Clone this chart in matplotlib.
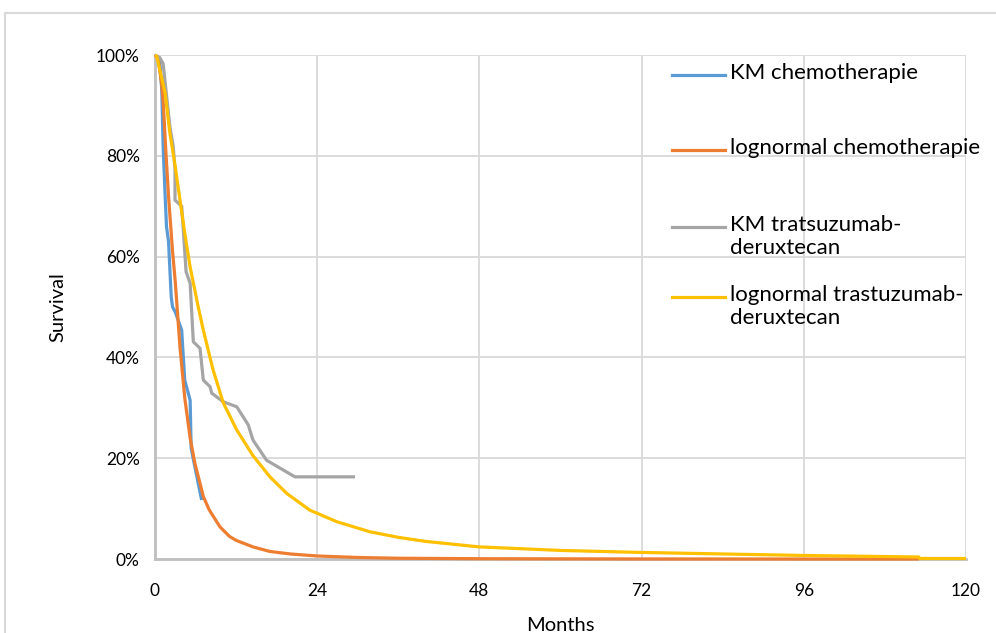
import matplotlib
matplotlib.use("Agg")
import matplotlib.pyplot as plt
from matplotlib.patches import Rectangle
from matplotlib.ticker import PercentFormatter

plt.rcParams['font.family'] = ['Lato', 'DejaVu Sans']

# KM chemotherapie
km_chemo_t = [0, 0.7, 1.0, 1.2, 1.5, 1.7, 2.0, 2.4, 2.6, 3.0, 3.95, 4.4, 5.2, 5.35, 5.7, 6.9]
km_chemo_s = [1.0, 0.99, 0.93, 0.82, 0.72, 0.66, 0.63, 0.52, 0.50, 0.49, 0.454, 0.355, 0.315, 0.22, 0.196, 0.117]

# lognormal chemotherapie
ln_chemo_t = [0, 0.5, 1.0, 1.2, 1.6, 2.0, 2.6, 3.0, 3.7, 4.4, 5.2, 5.9, 7.15, 8, 9.6, 11, 12, 14.5, 17, 20, 22,
              24, 30, 36, 48, 60, 72, 96, 113]
ln_chemo_s = [1.0, 0.99, 0.94, 0.91, 0.81, 0.72, 0.61, 0.55, 0.42, 0.32, 0.24, 0.19, 0.124, 0.098, 0.064, 0.045,
              0.037, 0.024, 0.015, 0.010, 0.008, 0.006, 0.003, 0.0015, 0.0006, 0.0003, 0.0001, 0.0, 0.0]

# KM tratsuzumab-deruxtecan
km_tdxd_t = [0, 0.7, 1.2, 2.2, 2.7, 2.96, 2.96, 3.95, 4.3, 4.6, 5.2, 5.67, 6.66, 7.15, 8.14, 8.39, 10.1, 12.1,
             13.8, 14.5, 16.5, 20.7, 29.6]
km_tdxd_s = [1.0, 0.995, 0.983, 0.858, 0.818, 0.772, 0.712, 0.70, 0.63, 0.57, 0.547, 0.431, 0.418, 0.355, 0.342,
             0.329, 0.312, 0.302, 0.266, 0.236, 0.196, 0.163, 0.163]

# lognormal trastuzumab-deruxtecan
ln_tdxd_t = [0, 0.25, 1.5, 2.2, 3.0, 3.7, 4.4, 5.2, 6.4, 7.15, 8.6, 10.1, 12.1, 14.5, 17, 19.5, 22.9, 26.9, 31.8,
             36, 40, 48, 60, 72, 84, 96, 113, 113.2, 120]
ln_tdxd_s = [1.0, 0.998, 0.924, 0.845, 0.778, 0.712, 0.647, 0.579, 0.50, 0.454, 0.375, 0.31, 0.256, 0.205, 0.163,
             0.13, 0.097, 0.074, 0.054, 0.043, 0.035, 0.024, 0.017, 0.013, 0.010, 0.007, 0.004, 0.001, 0.001]

labels = ["KM chemotherapie", "lognormal chemotherapie",
          "KM tratsuzumab-\nderuxtecan", "lognormal trastuzumab-\nderuxtecan"]
colors = ["#5B9BD5", "#ED7D31", "#A5A5A5", "#FFC000"]

fig = plt.figure(figsize=(9.96, 6.33), dpi=100)
ax = fig.add_axes([155 / 996, 74 / 633, 811 / 996, 504 / 633])

series = [(km_chemo_t, km_chemo_s), (ln_chemo_t, ln_chemo_s),
          (km_tdxd_t, km_tdxd_s), (ln_tdxd_t, ln_tdxd_s)]
for (t, s), c in zip(series, colors):
    ax.plot(t, s, color=c, lw=2.3, solid_joinstyle='round', solid_capstyle='butt',
            clip_on=False, zorder=3)

ax.set_xlim(0, 120)
ax.set_ylim(0, 1)
ax.set_xticks(range(0, 121, 24))
ax.set_yticks([0, 0.2, 0.4, 0.6, 0.8, 1.0])
ax.yaxis.set_major_formatter(PercentFormatter(1.0, decimals=0))
ax.grid(True, color="#d9d9d9", lw=1.3)
ax.set_axisbelow(True)
for sp in ["top", "right"]:
    ax.spines[sp].set_visible(False)
for sp in ["left", "bottom"]:
    ax.spines[sp].set_color("#bfbfbf")
    ax.spines[sp].set_linewidth(2)
    ax.spines[sp].set_zorder(2)
ax.tick_params(length=0, labelsize=12.5, colors="#000000")
ax.tick_params(axis='x', pad=17)
ax.tick_params(axis='y', pad=11)
ax.set_xlabel("Months", fontsize=14.5, labelpad=13)
ax.set_ylabel("Survival", fontsize=14.5, labelpad=21)

# legend drawn in axes coordinates
leg_y = [0.960, 0.8115, 0.6587, 0.5198]
for lab, c, y in zip(labels, colors, leg_y):
    ax.plot([0.6375, 0.703], [y, y], color=c, lw=2.3, transform=ax.transAxes,
            clip_on=False, zorder=4)
    ax.text(0.709, y + 0.024, lab, transform=ax.transAxes, fontsize=16,
            va="top", ha="left", linespacing=1.22)

fig.patches.append(Rectangle((5 / 996, -0.1), 1.1, 1 - 13 / 633 + 0.1,
                             transform=fig.transFigure, fill=False,
                             edgecolor="#d9d9d9", lw=1.5))

fig.savefig("out.png", dpi=100, facecolor="white")
